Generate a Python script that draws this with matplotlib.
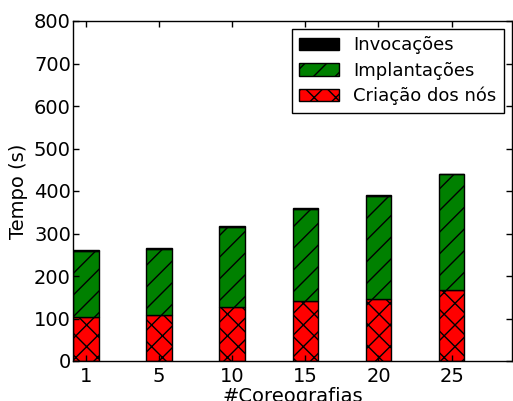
import numpy as np
import matplotlib
matplotlib.use("Agg")
import matplotlib.pyplot as plt

# tempos (s)
coreografias = ["1", "5", "10", "15", "20", "25"]
criacao = [103, 108, 127, 141, 146, 168]
implantacao = [156, 156, 189, 216, 242, 271]
invocacao = [2, 2, 2, 2, 2, 2]

# dpi maior deixa a hachura mais espacada, como no original
DPI = 130
s = 100 / DPI

plt.rcParams['font.family'] = ['DejaVu Sans']
plt.rcParams['hatch.linewidth'] = 1.0 * s
plt.rcParams['axes.linewidth'] = 1.0 * s

fig = plt.figure(figsize=(513 / DPI, 401 / DPI), dpi=DPI)
ax = fig.add_axes([73 / 513, 1 - 361 / 401, (512 - 73) / 513, (361 - 21) / 401])

ind = np.arange(len(coreografias))
width = 0.35
base2 = np.array(criacao)
base3 = base2 + np.array(implantacao)

p1 = ax.bar(ind, criacao, width, align='edge', color='r', edgecolor='k', hatch='xx', linewidth=1 * s)
p2 = ax.bar(ind, implantacao, width, bottom=base2, align='edge', color='g', edgecolor='k', hatch='//', linewidth=1 * s)
p3 = ax.bar(ind, invocacao, width, bottom=base3, align='edge', color='k', edgecolor='k', linewidth=1 * s)

ax.set_xlim(0, 6)
ax.set_ylim(0, 800)
ax.set_xticks(ind + width / 2)
ax.set_xticklabels(coreografias)
ax.set_yticks(np.arange(0, 801, 100))
ax.tick_params(direction='in', top=True, right=True, labelsize=14 * s, length=4 * s, width=1 * s)
ax.tick_params(axis='y', pad=1.5 * s)
ax.tick_params(axis='x', pad=4 * s)
ax.set_ylabel("Tempo (s)", fontsize=14 * s, labelpad=4 * s)
ax.set_xlabel("#Coreografias", fontsize=14 * s, labelpad=1 * s)

leg = ax.legend((p3[0], p2[0], p1[0]), ("Invocações", "Implantações", "Criação dos nós"),
                loc='upper right', fontsize=13 * s, fancybox=False, framealpha=1,
                edgecolor='k', borderaxespad=0.45, handlelength=2.2, labelspacing=0.4)
leg.get_frame().set_linewidth(1 * s)

fig.savefig("out.png", dpi=DPI)
